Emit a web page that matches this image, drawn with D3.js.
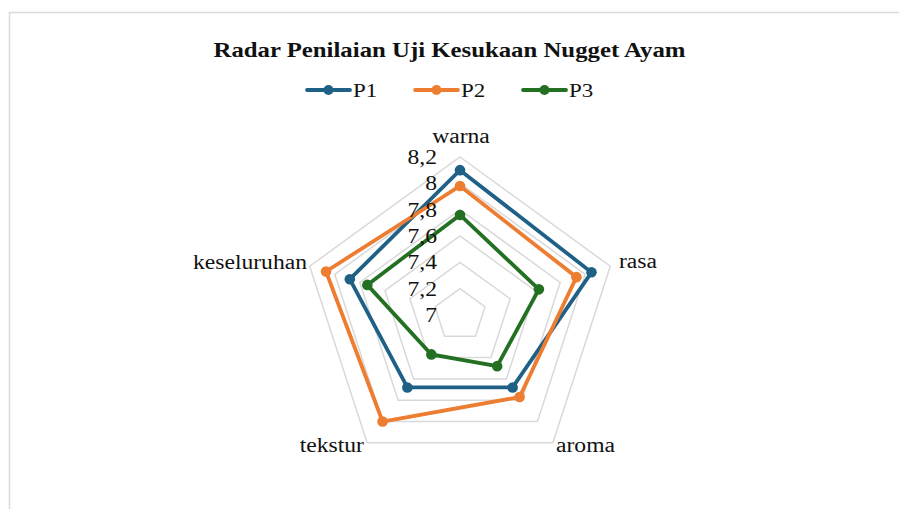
<!DOCTYPE html>
<html><head><meta charset="utf-8">
<script src="https://cdn.jsdelivr.net/npm/d3@7"></script>
<style>html,body{margin:0;padding:0;background:#fff}</style>
</head><body>
<svg id="c" width="899" height="509"></svg>
<script>
const categories = ["warna","rasa","aroma","tekstur","keseluruhan"];
const seriesNames = ["P1","P2","P3"];
const P1 = [8.10, 8.05, 7.68, 7.68, 7.88];
const P2 = [7.98, 7.93, 7.77, 8.00, 8.07];
const P3 = [7.76, 7.63, 7.48, 7.37, 7.74];
const tickValues = [7, 7.2, 7.4, 7.6, 7.8, 8, 8.2];
const tickLabels = ["7","7,2","7,4","7,6","7,8","8","8,2"];
const colors = ["#1f6087","#ed7d31","#237023"];
const title = "Radar Penilaian Uji Kesukaan Nugget Ayam";

const svg = d3.select("#c");
const FONT = "'Liberation Serif','Times New Roman',serif";
const SX = 1.18;
function stretch(sel){
  sel.each(function(){
    const w = this.getComputedTextLength();
    d3.select(this).attr("textLength", w*SX).attr("lengthAdjust","spacingAndGlyphs");
  });
  return sel;
}

svg.append("rect").attr("x",9.5).attr("y",12.5).attr("width",900).attr("height",510)
  .attr("fill","#fff").attr("stroke","#d9d9d9").attr("stroke-width",1.5);

stretch(svg.append("text").attr("x",449.5).attr("y",57).attr("text-anchor","middle")
  .attr("font-family",FONT).attr("font-weight","bold").attr("font-size",21).attr("fill","#111")
  .text(title));

// legend
const legX = [307, 415, 523];
const series = [P1,P2,P3];
seriesNames.forEach((n,i)=>{
  const g = svg.append("g");
  g.append("line").attr("x1",legX[i]).attr("x2",legX[i]+43).attr("y1",90).attr("y2",90)
    .attr("stroke",colors[i]).attr("stroke-width",3.8).attr("stroke-linecap","round");
  g.append("circle").attr("cx",legX[i]+21.5).attr("cy",90).attr("r",5).attr("fill",colors[i]);
  stretch(g.append("text").attr("x",legX[i]+46).attr("y",97).attr("font-family",FONT)
    .attr("font-size",19.5).attr("fill","#111").text(n));
});

const cx = 460, cy = 315;
const r = d3.scaleLinear().domain([7, 8.2]).range([0, 158]);
const ang = d3.scaleLinear().domain([0, categories.length]).range([0, 2*Math.PI]);
const pt = (v,i)=>[cx + r(v)*Math.sin(ang(i)), cy - r(v)*Math.cos(ang(i))];

// grid rings
tickValues.slice(1).forEach(t=>{
  const pts = categories.map((c,i)=>pt(t,i));
  svg.append("polygon").attr("points", pts.map(p=>p.join(",")).join(" "))
    .attr("fill","none").attr("stroke","#d9d9d9").attr("stroke-width",1.5);
});

// series
series.forEach((s,k)=>{
  const pts = s.map((v,i)=>pt(v,i));
  svg.append("path").attr("d", d3.line()(pts)+"Z").attr("fill","none")
    .attr("stroke",colors[k]).attr("stroke-width",3.8).attr("stroke-linejoin","miter");
  svg.selectAll(null).data(pts).enter().append("circle")
    .attr("cx",d=>d[0]).attr("cy",d=>d[1]).attr("r",5.3).attr("fill",colors[k]);
});

// tick labels
tickValues.forEach((t,i)=>{
  stretch(svg.append("text").attr("x",437).attr("y",cy - r(t) + 7).attr("text-anchor","end")
    .attr("font-family",FONT).attr("font-size",20).attr("fill","#111").text(tickLabels[i]));
});

// category labels
const labPos = [
  {x:461, y:143, a:"middle"},
  {x:619, y:268, a:"start"},
  {x:556, y:452, a:"start"},
  {x:364, y:452, a:"end"},
  {x:307, y:269, a:"end"}
];
categories.forEach((c,i)=>{
  stretch(svg.append("text").attr("x",labPos[i].x).attr("y",labPos[i].y).attr("text-anchor",labPos[i].a)
    .attr("font-family",FONT).attr("font-size",20).attr("fill","#111").text(c));
});
</script>
</body></html>
